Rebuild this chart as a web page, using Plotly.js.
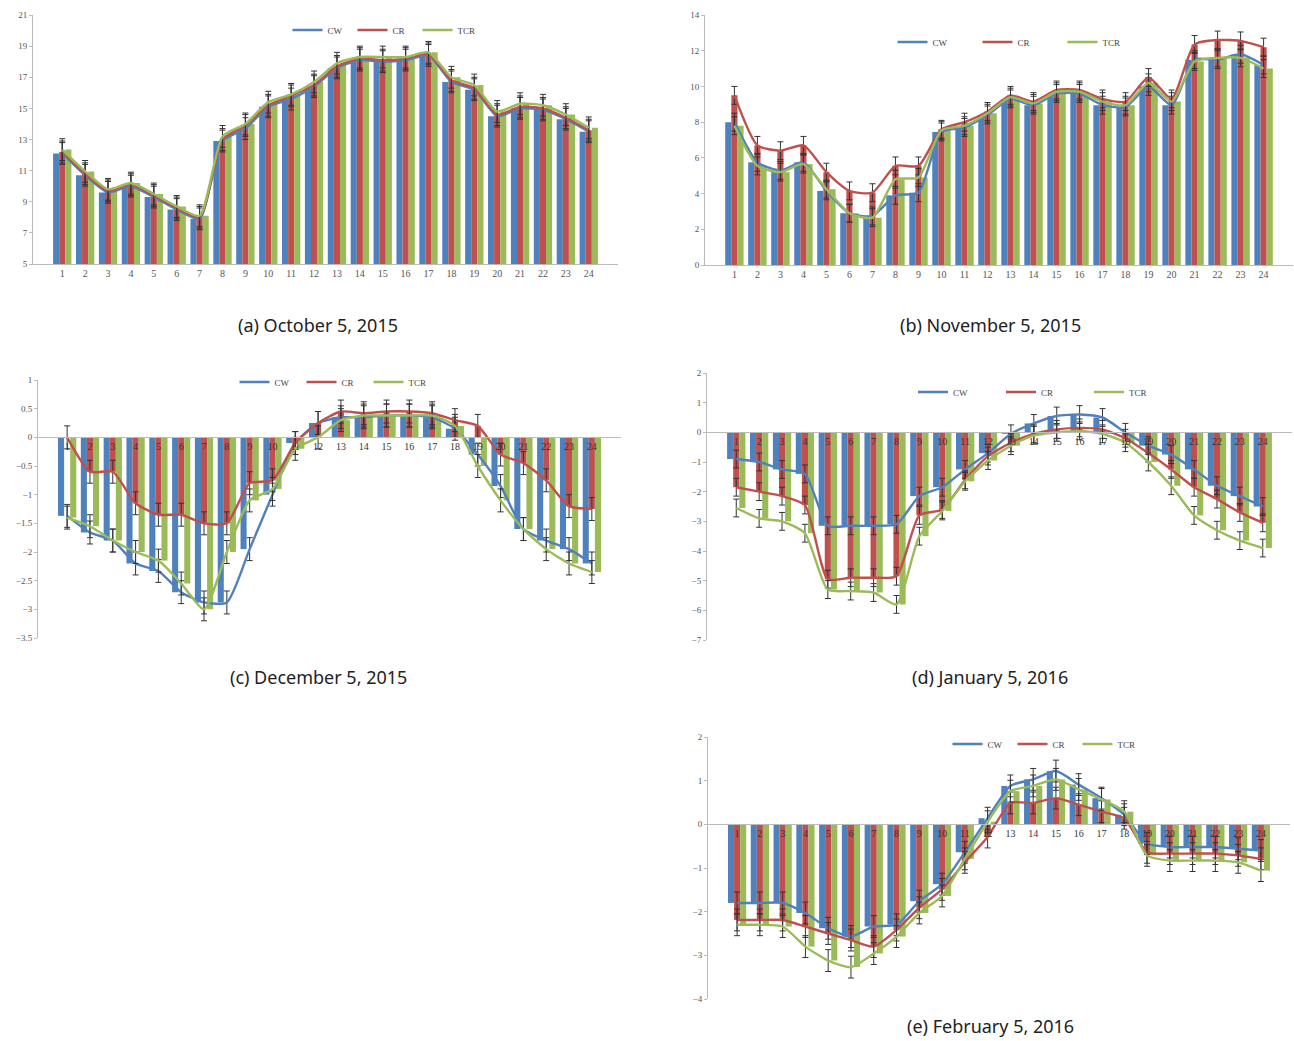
<!DOCTYPE html>
<html><head><meta charset="utf-8">
<script src="https://cdn.plot.ly/plotly-3.0.1.min.js"></script>
<style>html,body{margin:0;padding:0;background:#fff}#chart{width:1294px;height:1041px}</style>
</head><body><div id="chart"></div>
<script>
const hours = ['1','2','3','4','5','6','7','8','9','10','11','12','13','14','15','16','17','18','19','20','21','22','23','24'];
const seriesNames = ['CW','CR','TCR'];
const seriesColors = ['#4F81BD','#C0504D','#9BBB59'];
const captions = ['(a) October 5, 2015','(b) November 5, 2015','(c) December 5, 2015','(d) January 5, 2016','(e) February 5, 2016'];

// (a) October 5, 2015
const octCW  = [12.1,10.7,9.6,10.0,9.3,8.5,7.9,12.9,13.7,15.1,15.6,16.4,17.6,18.1,18.0,18.1,18.4,16.7,16.2,14.5,15.0,14.9,14.3,13.5];
const octCR  = [12.2,10.8,9.7,10.1,9.4,8.6,8.0,13.0,13.9,15.2,15.8,16.5,17.7,18.2,18.1,18.2,18.5,16.8,16.3,14.6,15.1,15.0,14.4,13.6];
const octTCR = [12.35,10.95,9.8,10.2,9.5,8.7,8.1,13.2,14.0,15.4,15.9,16.7,17.9,18.3,18.3,18.3,18.6,17.0,16.5,14.8,15.3,15.2,14.6,13.75];
const octErr = 0.7;

// (b) November 5, 2015
const novCW  = [8.0,5.75,5.3,5.75,4.15,2.9,2.75,3.9,4.05,7.45,7.7,8.4,9.3,8.95,9.6,9.6,8.95,8.85,10.0,8.95,11.5,11.5,11.8,11.2];
const novCR  = [9.5,6.7,6.4,6.7,5.2,4.15,4.05,5.55,5.55,7.6,8.0,8.6,9.5,9.15,9.8,9.8,9.3,9.15,10.5,9.3,12.35,12.6,12.55,12.2];
const novTCR = [7.8,5.55,5.2,5.65,4.25,2.9,2.65,4.8,4.9,7.55,7.8,8.5,9.4,9.05,9.7,9.7,9.15,8.95,10.2,9.15,11.4,11.6,11.6,11.0];
const novErr = 0.5;

// (c) December 5, 2015
const decCW  = [-1.37,-1.66,-1.8,-2.2,-2.33,-2.7,-2.88,-2.88,-1.95,-1.0,-0.1,0.25,0.35,0.35,0.38,0.38,0.35,0.15,-0.3,-0.85,-1.6,-1.8,-1.95,-2.2];
const decCR  = [0.0,-0.6,-0.6,-1.15,-1.35,-1.35,-1.5,-1.5,-0.8,-0.75,-0.1,0.25,0.45,0.42,0.45,0.45,0.42,0.3,0.2,-0.3,-0.45,-0.75,-1.2,-1.25];
const decTCR = [-1.4,-1.55,-1.8,-2.0,-2.15,-2.55,-3.0,-2.0,-1.1,-0.9,-0.2,0.0,0.3,0.38,0.38,0.38,0.38,0.2,-0.5,-1.1,-1.6,-1.95,-2.2,-2.35];
const decErr = 0.2;

// (d) January 5, 2016
const janCW  = [-0.9,-1.0,-1.25,-1.4,-3.15,-3.15,-3.15,-3.1,-2.15,-1.85,-1.25,-0.7,-0.05,0.3,0.55,0.6,0.5,0.0,-0.45,-0.75,-1.25,-1.8,-2.15,-2.5];
const janCR  = [-1.85,-2.0,-2.15,-2.45,-4.95,-4.9,-4.9,-4.85,-2.8,-2.6,-1.6,-0.8,-0.35,-0.05,0.1,0.15,0.1,-0.2,-0.7,-1.25,-1.85,-2.25,-2.7,-3.05];
const janTCR = [-2.55,-2.9,-3.0,-3.4,-5.3,-5.35,-5.4,-5.8,-3.5,-2.65,-1.65,-0.95,-0.45,-0.1,0.0,0.05,-0.05,-0.35,-1.0,-1.8,-2.8,-3.3,-3.65,-3.9];
const janErr = 0.3;

// (e) February 5, 2016
const febCW  = [-1.8,-1.8,-1.8,-2.03,-2.38,-2.57,-2.34,-2.3,-1.76,-1.37,-0.64,0.14,0.88,1.03,1.22,0.91,0.6,0.22,-0.44,-0.52,-0.52,-0.52,-0.56,-0.6];
const febCR  = [-2.19,-2.19,-2.19,-2.34,-2.5,-2.65,-2.8,-2.42,-1.91,-1.49,-0.87,-0.29,0.49,0.49,0.6,0.45,0.29,0.14,-0.64,-0.67,-0.67,-0.67,-0.71,-0.79];
const febTCR = [-2.3,-2.3,-2.34,-2.8,-3.12,-3.27,-2.96,-2.57,-2.03,-1.64,-0.79,0.06,0.76,0.88,1.03,0.8,0.57,0.29,-0.71,-0.83,-0.83,-0.83,-0.87,-1.06];
const febErr = 0.25;

const panels = [
  {data:[octCW,octCR,octTCR], err:octErr, range:[5,21], dtick:2, tick0:5, xd:[33,618], yd:[15,264], zeroAxis:false, leg:[385,30], entry:20, cap:[318,325]},
  {data:[novCW,novCR,novTCR], err:novErr, range:[0,14], dtick:2, tick0:0, xd:[705,1293], yd:[15,265], zeroAxis:false, leg:[1020,42], entry:40, cap:[990,325]},
  {data:[decCW,decCR,decTCR], err:decErr, range:[-3.5,1], dtick:0.5, tick0:0, xd:[38,621], yd:[380,638], zeroAxis:true, leg:[335,382], entry:22, cap:[318,677]},
  {data:[janCW,janCR,janTCR], err:janErr, range:[-7,2], dtick:1, tick0:0, xd:[707,1292], yd:[373,640], zeroAxis:true, leg:[1045,392], entry:43, cap:[990,677]},
  {data:[febCW,febCR,febTCR], err:febErr, range:[-4,2], dtick:1, tick0:0, xd:[708,1290], yd:[737,999], zeroAxis:true, leg:[1045,744], entry:20, cap:[990,1026]}
];

const W = 1294, H = 1041;
const traces = [];
const layout = {
  width: W, height: H, margin:{l:0,r:0,t:0,b:0},
  paper_bgcolor:'#fff', plot_bgcolor:'rgba(0,0,0,0)',
  barmode:'group', bargap:0.2, bargroupgap:0,
  font:{family:'Liberation Serif, serif', size:10, color:'#555'},
  annotations:[]
};

panels.forEach((p, i) => {
  const n = i === 0 ? '' : String(i+1);
  const xa = 'x'+n, ya = 'y'+n;
  const legName = 'legend'+n;
  const yDom = [1 - p.yd[1]/H, 1 - p.yd[0]/H];
  const xDom = [p.xd[0]/W, p.xd[1]/W];
  for (let s = 0; s < 3; s++) {
    traces.push({type:'bar', x:hours, y:p.data[s], xaxis:xa, yaxis:ya, name:seriesNames[s],
      marker:{color:seriesColors[s]}, showlegend:false, hoverinfo:'skip'});
  }
  for (let s = 0; s < 3; s++) {
    traces.push({type:'scatter', mode:'lines', x:hours, y:p.data[s], xaxis:xa, yaxis:ya,
      name:seriesNames[s], legend:legName,
      line:{color:seriesColors[s], width:2.4, shape:'spline', smoothing:0.6},
      error_y:{type:'constant', value:p.err, color:'#333', thickness:1, width:3},
      showlegend:true});
  }
  const xaxis = {domain:xDom, type:'category', showgrid:false, zeroline:false,
    showline:true, linecolor:'#bbb', linewidth:1, ticks:'', tickfont:{size:10, color:'#555'},
    fixedrange:true};
  if (p.zeroAxis) {
    xaxis.anchor = 'free';
    xaxis.position = yDom[0] + (0 - p.range[0])/(p.range[1]-p.range[0])*(yDom[1]-yDom[0]);
    xaxis.tickfont = {size:10, color:'#333'};
  } else {
    xaxis.anchor = ya;
  }
  layout['xaxis'+n] = xaxis;
  layout['yaxis'+n] = {domain:yDom, anchor:xa, range:p.range, dtick:p.dtick, tick0:p.tick0, showgrid:false,
    zeroline:false, showline:true, linecolor:'#bbb', linewidth:1, ticks:'outside',
    ticklen:3, tickcolor:'#bbb', tickfont:{size:9, color:'#555'}, fixedrange:true};
  layout[legName] = {orientation:'h', x:p.leg[0]/W, y:1 - p.leg[1]/H, xanchor:'center', yanchor:'middle',
    bgcolor:'rgba(255,255,255,0)', font:{size:9, color:'#444'}, itemwidth:30,
    entrywidth:p.entry, entrywidthmode:'pixels', tracegroupgap:0};
  layout.annotations.push({xref:'paper', yref:'paper', x:p.cap[0]/W, y:1 - p.cap[1]/H,
    xanchor:'center', yanchor:'middle', showarrow:false, text:captions[i],
    font:{family:'Noto Sans, Open Sans, sans-serif', size:18, color:'#222'}});
});

Plotly.newPlot('chart', traces, layout, {staticPlot:true, displayModeBar:false});
</script>
</body></html>
